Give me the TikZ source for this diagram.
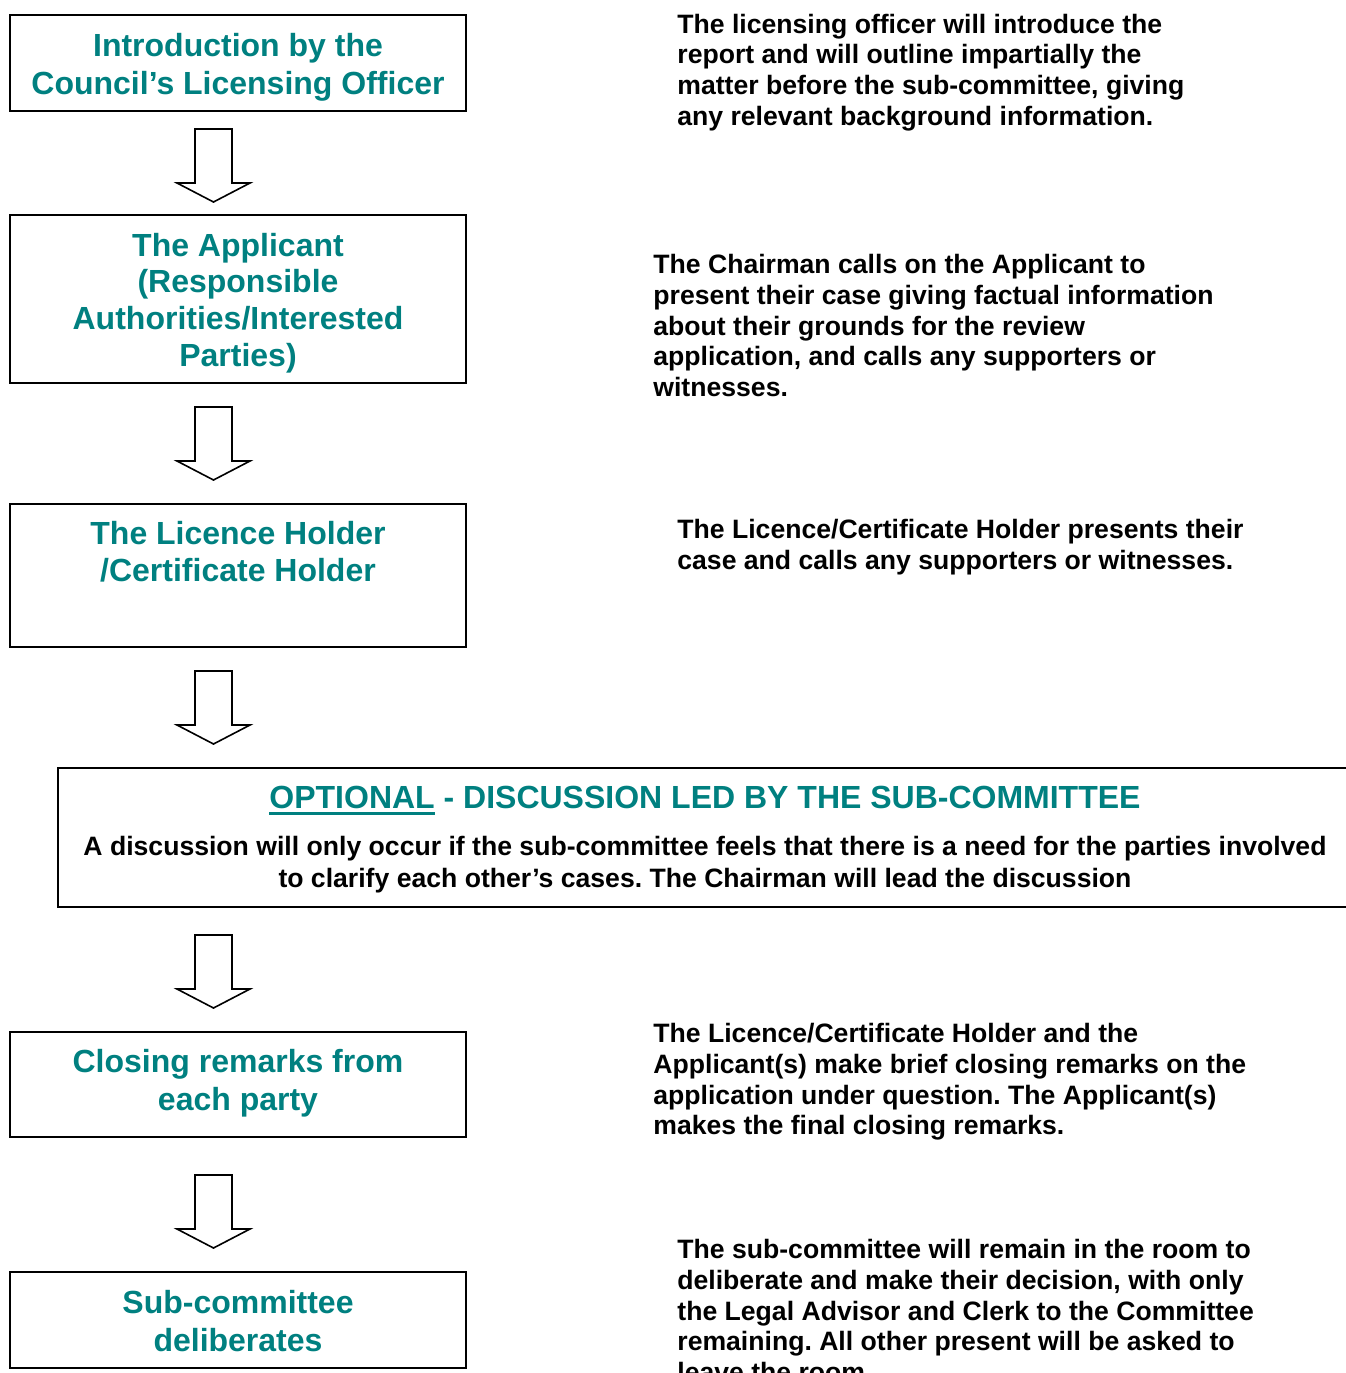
\documentclass[tikz,border=0pt]{standalone}
\usepackage{fontspec}
\setmainfont{Liberation Sans}
\usetikzlibrary{positioning}

\definecolor{licteal}{RGB}{0,128,128}
\frenchspacing

\tikzset{
  stagebox/.style={draw, line width=1pt, minimum width=228pt, inner sep=0pt},
  stagetext/.style={text=licteal, align=center, inner sep=0pt,
    font=\fontsize{16}{18.4}\selectfont\bfseries},
  notetext/.style={anchor=north west, align=left, inner sep=0pt,
    font=\fontsize{13.3}{15.35}\selectfont\bfseries},
  hollowarrow/.style={draw, line width=0.8pt, fill=white, line join=miter}
}

\begin{document}
\begin{tikzpicture}[x=0.5pt, y=-0.5pt]
  \useasboundingbox (0,0) rectangle (1346,1373);
  \clip (0,0) rectangle (1346,1373);

  % left column: the stages of the hearing
  \node[stagebox, minimum height=48pt] (intro) at (238,63) {};
  \node[stagetext, font=\fontsize{16}{19}\selectfont\bfseries] (introtxt) at (238,67)
    {Introduction by the\\Council’s Licensing Officer};

  \node[stagebox, minimum height=84pt] (applicant) at (238,299) {};
  \node[stagetext] (applicanttxt) at (238,303)
    {The Applicant\\(Responsible\\Authorities/Interested\\Parties)};

  \node[stagebox, minimum height=71.5pt] (holder) at (238,575.5) {};
  \node[stagetext] (holdertxt) at (238,552)
    {The Licence Holder\\/Certificate Holder};

  \node[stagebox, minimum width=647pt, minimum height=69.5pt] (optional) at (705,837.5) {};
  \node[stagetext, anchor=base] (optionalhead) at (705,808)
    {OPTIONAL - DISCUSSION LED BY THE SUB-COMMITTEE};
  \draw[licteal, line width=1.5pt] ([yshift=-2.6pt]optionalhead.base west) -- ++(83pt,0);
  \node[align=center, inner sep=0pt, font=\fontsize{13.3}{16}\selectfont\bfseries]
    (optionaltxt) at (705,865)
    {A discussion will only occur if the sub-committee feels that there is a need for the parties involved\\
     to clarify each other’s cases. The Chairman will lead the discussion};

  \node[stagebox, minimum height=52.5pt] (closing) at (238,1084.5) {};
  \node[stagetext, font=\fontsize{16}{19}\selectfont\bfseries] (closingtxt) at (238,1083)
    {Closing remarks from\\each party};

  \node[stagebox, minimum height=48pt] (deliberate) at (238,1320) {};
  \node[stagetext, font=\fontsize{16}{19}\selectfont\bfseries] (deliberatetxt) at (238,1321)
    {Sub-committee\\deliberates};

  % block arrows between the stages
  \foreach \t in {129, 407, 671, 935, 1175} {
    \draw[hollowarrow]
    (195,\t) -- (232,\t) -- (232,\t+54) -- (250,\t+54)
    -- (213.5,\t+73) -- (177,\t+54) -- (195,\t+54) -- cycle;
  }

  % right column: notes
  \node[notetext] (introinfo) at (677,13.5)
    {The licensing officer will introduce the\\
     report and will outline impartially the\\
     matter before the sub-committee, giving\\
     any relevant background information.};
  \node[notetext] (applicantinfo) at (653,254)
    {The Chairman calls on the Applicant to\\
     present their case giving factual information\\
     about their grounds for the review\\
     application, and calls any supporters or\\
     witnesses.};
  \node[notetext] (holderinfo) at (677,519)
    {The Licence/Certificate Holder presents their\\
     case and calls any supporters or witnesses.};
  \node[notetext] (closinginfo) at (653,1023)
    {The Licence/Certificate Holder and the\\
     Applicant(s) make brief closing remarks on the\\
     application under question. The Applicant(s)\\
     makes the final closing remarks.};
  \node[notetext] (deliberateinfo) at (677,1239)
    {The sub-committee will remain in the room to\\
     deliberate and make their decision, with only\\
     the Legal Advisor and Clerk to the Committee\\
     remaining. All other present will be asked to\\
     leave the room.};
\end{tikzpicture}
\end{document}
